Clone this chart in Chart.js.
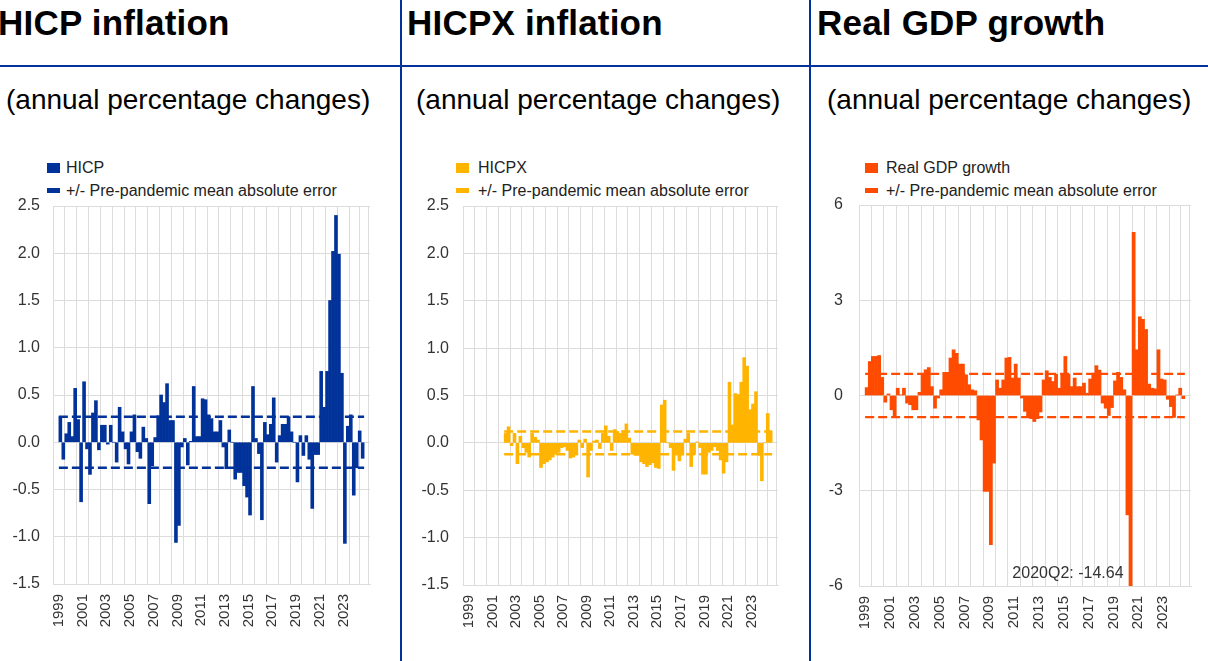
<!DOCTYPE html>
<html>
<head>
<meta charset="utf-8">
<script src="https://cdn.jsdelivr.net/npm/chart.js@4.4.1/dist/chart.umd.min.js"></script>
<style>
  body { margin: 0; width: 1208px; height: 661px; background: #fff; position: relative; overflow: hidden;
         font-family: "Liberation Sans", Arial, sans-serif; color: #000; }
  .vline { position: absolute; top: 0; width: 2px; height: 661px; background: #003299; }
  .hline { position: absolute; left: 0; top: 65px; width: 1208px; height: 2px; background: #003299; }
  .title { position: absolute; top: 5px; font-weight: bold; font-size: 35px; line-height: 35px; letter-spacing: 0.2px; white-space: nowrap; }
  .sub { position: absolute; top: 86px; font-size: 28px; line-height: 28px; white-space: nowrap; }
  .legend { position: absolute; top: 156px; font-size: 16px; color: #222; white-space: nowrap; }
  .legend .row { display: flex; align-items: center; height: 23px; }
  .legend .box { display: inline-block; width: 13px; }
  .chartbox { position: absolute; }
</style>
</head>
<body>
<div class="vline" style="left:400px"></div>
<div class="vline" style="left:809px"></div>
<div class="hline"></div>

<div class="title" style="left:-2px">HICP inflation</div>
<div class="title" style="left:407px">HICPX inflation</div>
<div class="title" style="left:817px">Real GDP growth</div>

<div class="sub" style="left:6px">(annual percentage changes)</div>
<div class="sub" style="left:416px">(annual percentage changes)</div>
<div class="sub" style="left:827px">(annual percentage changes)</div>

<div class="legend" style="left:47px">
  <div class="row"><span class="box" style="height:10px;background:#003299"></span><span style="margin-left:6px">HICP</span></div>
  <div class="row"><span class="box" style="height:5px;background:#003299"></span><span style="margin-left:6px">+/- Pre-pandemic mean absolute error</span></div>
</div>
<div class="legend" style="left:456px">
  <div class="row"><span class="box" style="height:10px;background:#ffb400"></span><span style="margin-left:9px">HICPX</span></div>
  <div class="row"><span class="box" style="height:5px;background:#ffb400"></span><span style="margin-left:9px">+/- Pre-pandemic mean absolute error</span></div>
</div>
<div class="legend" style="left:865px">
  <div class="row"><span class="box" style="height:10px;background:#ff4b00"></span><span style="margin-left:8px">Real GDP growth</span></div>
  <div class="row"><span class="box" style="height:5px;background:#ff4b00"></span><span style="margin-left:8px">+/- Pre-pandemic mean absolute error</span></div>
</div>

<div class="chartbox" style="left:0px;top:196px;width:380px;height:465px"><canvas id="hicpCanvas"></canvas></div>
<div class="chartbox" style="left:405px;top:196px;width:383px;height:465px"><canvas id="hicpxCanvas"></canvas></div>
<div class="chartbox" style="left:810px;top:195px;width:391px;height:466px"><canvas id="gdpCanvas"></canvas></div>

<script>
// quarters 1999Q1 .. 2024Q3
var quarters = [];
for (var yr = 1999; yr <= 2024; yr++) {
    for (var q = 1; q <= 4; q++) {
        if (yr === 2024 && q > 3) break;
        quarters.push(yr + 'Q' + q);
    }
}
var yearTicks = ['1999', '2001', '2003', '2005', '2007', '2009', '2011', '2013',
                 '2015', '2017', '2019', '2021', '2023'];

var hicp = [
    0.27, -0.18, 0.09, 0.21, 0.06, 0.57, 0.24, -0.63, 0.64, -0.07,
    -0.34, 0.31, 0.44, -0.08, 0.18, 0.18, -0.02, 0.18, 0.00, -0.21,
    0.37, 0.11, -0.07, -0.23, 0.11, 0.29, -0.10, -0.17, 0.16, 0.04,
    -0.65, -0.25, 0.05, 0.28, 0.50, 0.42, 0.62, 0.23, 0.23, -1.06,
    -0.88, -0.05, 0.04, -0.24, 0.01, 0.59, 0.06, 0.06, 0.46, 0.45,
    0.29, 0.25, 0.11, 0.11, 0.23, -0.05, -0.28, 0.13, 0.00, -0.39,
    -0.32, -0.32, -0.46, -0.58, -0.77, 0.59, 0.04, -0.12, -0.82, 0.21,
    0.08, 0.19, 0.47, -0.21, 0.07, 0.19, 0.19, 0.27, 0.11, 0.00,
    -0.42, 0.07, -0.14, 0.07, -0.18, -0.70, -0.13, -0.13, 0.75, 0.37,
    0.75, 1.50, 2.02, 2.40, 1.99, 0.73, -1.07, 0.17, 0.29, -0.56,
    -0.27, 0.12, -0.17
];
var hicpx = [
    null, null, null, null, null, null, null, null, null, null,
    null, null, 0.10, 0.17, -0.03, 0.10, -0.22, 0.07, -0.05, -0.10,
    -0.15, 0.10, 0.06, 0.03, -0.26, -0.22, -0.20, -0.18, -0.15, -0.12,
    -0.10, -0.05, -0.04, -0.08, -0.16, -0.15, -0.12, 0.03, -0.05, 0.04,
    -0.36, -0.08, 0.02, 0.03, -0.06, 0.10, 0.18, 0.07, -0.08, 0.14,
    0.12, 0.10, 0.13, 0.20, 0.05, -0.12, -0.13, -0.13, -0.20, -0.22,
    -0.25, -0.23, -0.21, -0.26, -0.27, 0.40, 0.45, 0.00, -0.05, -0.29,
    -0.12, -0.19, -0.13, 0.04, 0.10, -0.25, -0.12, 0.01, -0.05, -0.33,
    -0.33, -0.10, -0.08, -0.04, -0.08, -0.18, -0.32, -0.20, 0.64, 0.19,
    0.52, 0.51, 0.64, 0.90, 0.81, 0.35, 0.41, 0.54, -0.13, -0.40,
    0.00, 0.31, 0.12
];
var gdp = [
    0.25, 1.07, 1.23, 1.23, 1.26, 0.57, -0.21, 0.05, -0.45, -0.69,
    0.23, 0.02, 0.23, -0.24, -0.29, -0.45, -0.45, 0.10, 0.70, 0.81,
    0.88, 0.28, -0.40, -0.08, 0.18, 0.73, 0.73, 1.18, 1.44, 1.33,
    0.99, 0.99, 0.65, 0.34, 0.18, 0.15, -0.77, -1.40, -3.02, -3.02,
    -4.70, -2.13, 0.49, 0.23, 0.49, 1.18, 1.20, 0.55, 0.99, 0.55,
    -0.08, -0.50, -0.66, -0.73, -0.82, -0.73, -0.52, 0.49, 0.78, 0.57,
    0.44, 0.67, 0.23, 0.65, 1.23, 0.67, 0.28, 0.55, 0.28, 0.28,
    0.39, 0.07, 0.52, 0.70, 0.94, 0.80, -0.24, -0.40, -0.63, -0.38,
    0.46, 0.73, 0.57, 0.18, -3.76, -14.64, 5.14, 1.44, 2.48, 2.40,
    2.08, 0.36, 0.23, 0.21, 1.44, 0.52, 0.49, -0.12, -0.35, -0.69,
    0.02, 0.23, -0.10
];
// pre-pandemic mean absolute errors (+/-)
var hicpMae = 0.27;
var hicpxMae = 0.12;
var gdpMae = 0.68;
var gdpNote = { quarter: '2020Q2', text: '2020Q2: -14.64' };

var blue = '#003299', yellow = '#ffb400', orange = '#ff4b00';
var gridColor = '#dcdcdc', tickColor = '#333';

// middle of a quarter on a year axis
function qTime(label) {
    return Number(label.slice(0, 4)) + (Number(label.slice(5)) - 0.5) / 4;
}
var axisMin = qTime(quarters[0]) - 0.125;
var axisMax = qTime(quarters[quarters.length - 1]) + 0.125;

function barPoints(series) {
    var pts = [];
    series.forEach(function (v, i) {
        if (v !== null) pts.push({ x: qTime(quarters[i]), y: v });
    });
    return pts;
}

function bandLine(series, level, color) {
    var first = series.findIndex(function (v) { return v !== null; });
    return {
        type: 'line',
        data: [{ x: qTime(quarters[first]) - 0.125, y: level }, { x: axisMax, y: level }],
        borderColor: color,
        borderWidth: 2.3,
        borderDash: [9, 4],
        pointRadius: 0,
        fill: false,
        order: 1
    };
}

var noteLabel = {
    id: 'noteLabel',
    afterDatasetsDraw: function (chart) {
        if (!chart.options.plugins.noteLabel.show) return;
        var xs = chart.scales.x, ys = chart.scales.y, ctx = chart.ctx;
        ctx.save();
        ctx.font = '16px "Liberation Sans", Arial, sans-serif';
        ctx.fillStyle = tickColor;
        ctx.textAlign = 'right';
        ctx.textBaseline = 'middle';
        ctx.fillText(gdpNote.text, xs.getPixelForValue(qTime(gdpNote.quarter)) - 7, ys.getPixelForValue(ys.min) - 12);
        ctx.restore();
    }
};

function makeChart(id, series, mae, color, yAxis, box) {
    var ctx = document.getElementById(id).getContext('2d');
    return new Chart(ctx, {
        type: 'bar',
        data: {
            datasets: [
                {
                    type: 'bar',
                    data: barPoints(series),
                    backgroundColor: color,
                    borderWidth: 0,
                    barPercentage: 1,
                    categoryPercentage: 1,
                    order: 2
                },
                bandLine(series, mae, color),
                bandLine(series, -mae, color)
            ]
        },
        options: {
            responsive: true,
            maintainAspectRatio: false,
            animation: false,
            events: [],
            layout: { padding: { top: 10, right: 10, left: 0, bottom: 0 } },
            plugins: {
                legend: { display: false },
                tooltip: { enabled: false },
                noteLabel: { show: !!box.note }
            },
            scales: {
                x: {
                    type: 'linear',
                    min: axisMin,
                    max: axisMax,
                    afterBuildTicks: function (scale) {
                        var t = [];
                        for (var y = 1999; y <= 2024; y++) t.push({ value: y });
                        t.push({ value: axisMax });
                        scale.ticks = t;
                    },
                    afterFit: function (scale) {
                        scale.height = box.xHeight;
                        scale.paddingLeft = 0;
                        scale.paddingRight = 0;
                    },
                    grid: { color: gridColor, drawTicks: false, lineWidth: 1 },
                    border: { color: gridColor },
                    ticks: {
                        autoSkip: false,
                        maxRotation: 90,
                        minRotation: 90,
                        padding: 10,
                        color: tickColor,
                        font: { family: '"Liberation Sans", Arial, sans-serif', size: 15 },
                        callback: function (value) {
                            var s = String(value);
                            return yearTicks.indexOf(s) >= 0 ? s : '';
                        }
                    }
                },
                y: {
                    min: yAxis.min,
                    max: yAxis.max,
                    afterBuildTicks: function (scale) {
                        scale.ticks = yAxis.ticks.map(function (v) { return { value: v }; });
                    },
                    afterFit: function (scale) {
                        scale.width = box.yWidth;
                        scale.paddingTop = 0;
                        scale.paddingBottom = 0;
                    },
                    grid: { color: gridColor, drawTicks: false, lineWidth: 1 },
                    border: { color: gridColor },
                    ticks: {
                        padding: box.tickPad,
                        color: tickColor,
                        font: { family: '"Liberation Sans", Arial, sans-serif', size: 16 },
                        callback: function (value) { return yAxis.fmt(value); }
                    }
                }
            }
        },
        plugins: [noteLabel]
    });
}

var inflAxis = {
    min: -1.5, max: 2.5,
    ticks: [-1.5, -1.0, -0.5, 0.0, 0.5, 1.0, 1.5, 2.0, 2.5],
    fmt: function (v) { return v.toFixed(1); }
};
var gdpAxis = {
    min: -6, max: 6,
    ticks: [-6, -3, 0, 3, 6],
    fmt: function (v) { return String(v); }
};

makeChart('hicpCanvas', hicp, hicpMae, blue, inflAxis, { xHeight: 77, yWidth: 53, tickPad: 13 });
makeChart('hicpxCanvas', hicpx, hicpxMae, yellow, inflAxis, { xHeight: 76, yWidth: 58, tickPad: 14 });
makeChart('gdpCanvas', gdp, gdpMae, orange, gdpAxis, { xHeight: 75, yWidth: 49, tickPad: 16, note: true });
</script>
</body>
</html>
